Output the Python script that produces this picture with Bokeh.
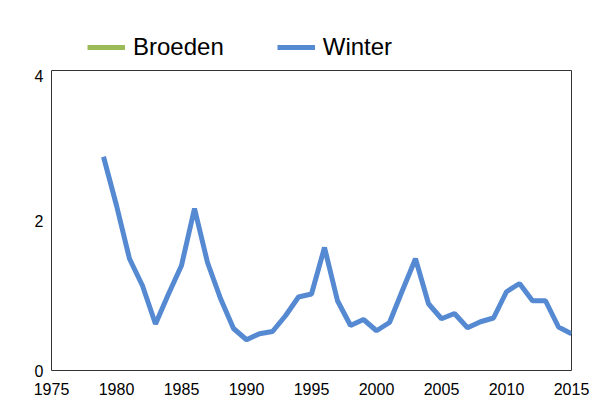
from bokeh.plotting import figure
from bokeh.models import ColumnDataSource, Legend, LegendItem, FixedTicker, Range1d
from bokeh.layouts import column
from bokeh.embed import file_html
from bokeh.resources import INLINE

years = list(range(1979, 2016))
winter = [2.85, 2.20, 1.49, 1.13, 0.62, 1.02, 1.40, 2.16, 1.44, 0.96,
          0.56, 0.41, 0.49, 0.52, 0.73, 0.98, 1.02, 1.64, 0.93, 0.60,
          0.68, 0.53, 0.64, 1.07, 1.49, 0.89, 0.69, 0.76, 0.57, 0.65,
          0.70, 1.05, 1.16, 0.93, 0.93, 0.58, 0.49]
# Broeden: no values shown in the chart (missing)
broeden_years = [1979, 2015]
broeden = [None, None]

series_names = ["Broeden", "Winter"]
series_colors = ["#9BBB59", "#558AD2"]

x_ticks = [1975, 1980, 1985, 1990, 1995, 2000, 2005, 2010, 2015]
y_ticks = [0, 2, 4]

src_w = ColumnDataSource(dict(x=years, y=winter))
src_b = ColumnDataSource(dict(x=broeden_years, y=[float("nan") if v is None else v for v in broeden]))

# legend strip on top
leg = figure(width=600, height=69, output_backend="svg", toolbar_location=None,
             x_range=Range1d(1975, 2015), y_range=Range1d(0, 4),
             min_border=0, min_border_left=0, min_border_right=0,
             min_border_top=0, min_border_bottom=0)
leg.axis.visible = False
leg.grid.visible = False
leg.outline_line_color = None
leg_renderers = [leg.line("x", "y", source=src_b, line_color=c, line_width=5) for c in series_colors]
legend = Legend(items=[LegendItem(label=n, renderers=[r]) for n, r in zip(series_names, leg_renderers)],
                orientation="horizontal", location=(36, 8),
                padding=0, margin=0, spacing=53, label_standoff=8,
                glyph_width=38, glyph_height=26, label_height=26,
                border_line_color=None, background_fill_alpha=0,
                label_text_font="Liberation Sans", label_text_font_size="24px",
                label_text_color="black")
leg.add_layout(legend, "center")

# main chart
p = figure(width=600, height=331, output_backend="svg", toolbar_location=None,
           x_range=Range1d(1975, 2015), y_range=Range1d(0, 4),
           min_border_left=51, min_border_right=29, min_border_top=1, min_border_bottom=30)
p.line("x", "y", source=src_b, line_color=series_colors[0], line_width=5)
p.line("x", "y", source=src_w, line_color=series_colors[1], line_width=5)

p.xgrid.visible = False
p.ygrid.visible = False
p.outline_line_color = "#333333"
p.outline_line_width = 1
p.outline_line_alpha = 1

for ax in (p.xaxis[0], p.yaxis[0]):
    ax.axis_line_color = None
    ax.major_tick_line_color = None
    ax.minor_tick_line_color = None
    ax.major_tick_in = 0
    ax.major_tick_out = 0
    ax.minor_tick_in = 0
    ax.minor_tick_out = 0
    ax.major_label_text_font = "Liberation Sans"
    ax.major_label_text_font_size = "16px"
    ax.major_label_text_color = "black"

p.xaxis[0].ticker = FixedTicker(ticks=x_ticks)
p.yaxis[0].ticker = FixedTicker(ticks=y_ticks)
p.xaxis[0].major_label_standoff = 12
p.yaxis[0].major_label_standoff = 8

layout = column(leg, p, spacing=0)
open("out.html", "w").write(file_html(layout, INLINE))
